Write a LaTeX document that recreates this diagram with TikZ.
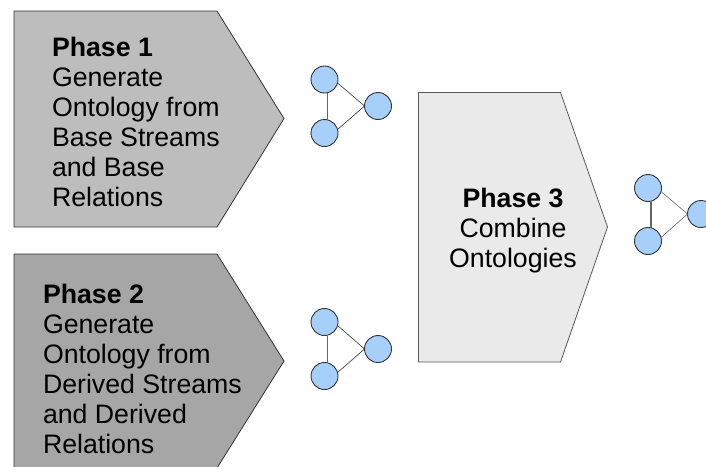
\documentclass[tikz,border=0pt]{standalone}
\usepackage{fontspec}
\setmainfont{Liberation Sans}
\definecolor{phaseA}{HTML}{BDBDBD}
\definecolor{phaseB}{HTML}{A6A6A6}
\definecolor{phaseC}{HTML}{EAEAEA}
\definecolor{dot}{HTML}{A6CFF9}
\definecolor{edgeline}{HTML}{333333}
\tikzset{
  phasebox/.style={draw=edgeline,line width=0.8pt,line join=miter},
  phasetext/.style={inner sep=0pt,outer sep=0pt,font=\fontsize{26.7}{30}\selectfont,text=black},
  dotnode/.style={circle,draw=edgeline,fill=dot,line width=0.9pt,minimum size=27pt,inner sep=0pt,outer sep=0pt},
  thinlink/.style={draw=edgeline,line width=0.6pt},
  thicklink/.style={draw=black!60,line width=1.1pt},
}
\begin{document}
\begin{tikzpicture}[x=1pt,y=-1pt]
\useasboundingbox (0,0) rectangle (706,466);
\clip (0,0) rectangle (706,466);
\fill[white] (0,0) rectangle (706,466);
% Pentagons
\filldraw[phasebox,fill=phaseA] (14,11) -- (217,11) -- (284,118.5) -- (217,227) -- (14,227) -- cycle;
\filldraw[phasebox,fill=phaseB] (14,254) -- (217,254) -- (284,361) -- (217,468) -- (14,468) -- cycle;
\filldraw[phasebox,fill=phaseC,draw=black!65] (418.5,92.5) -- (560.5,92.5) -- (607.5,227) -- (560.5,362) -- (418.5,362) -- cycle;
% Text
\node[phasetext,anchor=base west,align=left] (t1) at (52,206) {\textbf{Phase 1}\\Generate\\Ontology from\\Base Streams\\and Base\\Relations};
\node[phasetext,anchor=base west,align=left] (t2) at (43,453.5) {\textbf{Phase 2}\\Generate\\Ontology from\\Derived Streams\\and Derived\\Relations};
\node[phasetext,anchor=base,align=center] (t3) at (513,267) {\textbf{Phase 3}\\Combine\\Ontologies};
% Graph 1
\node[dotnode] (a1) at (324.5,79.5) {};
\node[dotnode] (a2) at (324.5,133) {};
\node[dotnode] (a3) at (378,106) {};
\draw[thicklink] ([xshift=3pt]a1.south) -- ([xshift=3pt]a2.north);
\draw[thinlink] (a1.-15) -- (a3.west);
\draw[thinlink] (a2.15) -- (a3.west);
% Graph 2
\node[dotnode] (b1) at (324.5,322) {};
\node[dotnode] (b2) at (324.5,376) {};
\node[dotnode] (b3) at (378,349) {};
\draw[thicklink] ([xshift=3pt]b1.south) -- ([xshift=3pt]b2.north);
\draw[thinlink] (b1.-15) -- (b3.west);
\draw[thinlink] (b2.15) -- (b3.west);
% Graph 3
\node[dotnode] (c1) at (648,188) {};
\node[dotnode] (c2) at (648,241) {};
\node[dotnode] (c3) at (701,214) {};
\draw[thicklink] ([xshift=3pt]c1.south) -- ([xshift=3pt]c2.north);
\draw[thinlink,draw=black!60] (c1.-15) -- (c3.west);
\draw[thinlink,draw=black!60] (c2.15) -- (c3.west);
\end{tikzpicture}
\end{document}
